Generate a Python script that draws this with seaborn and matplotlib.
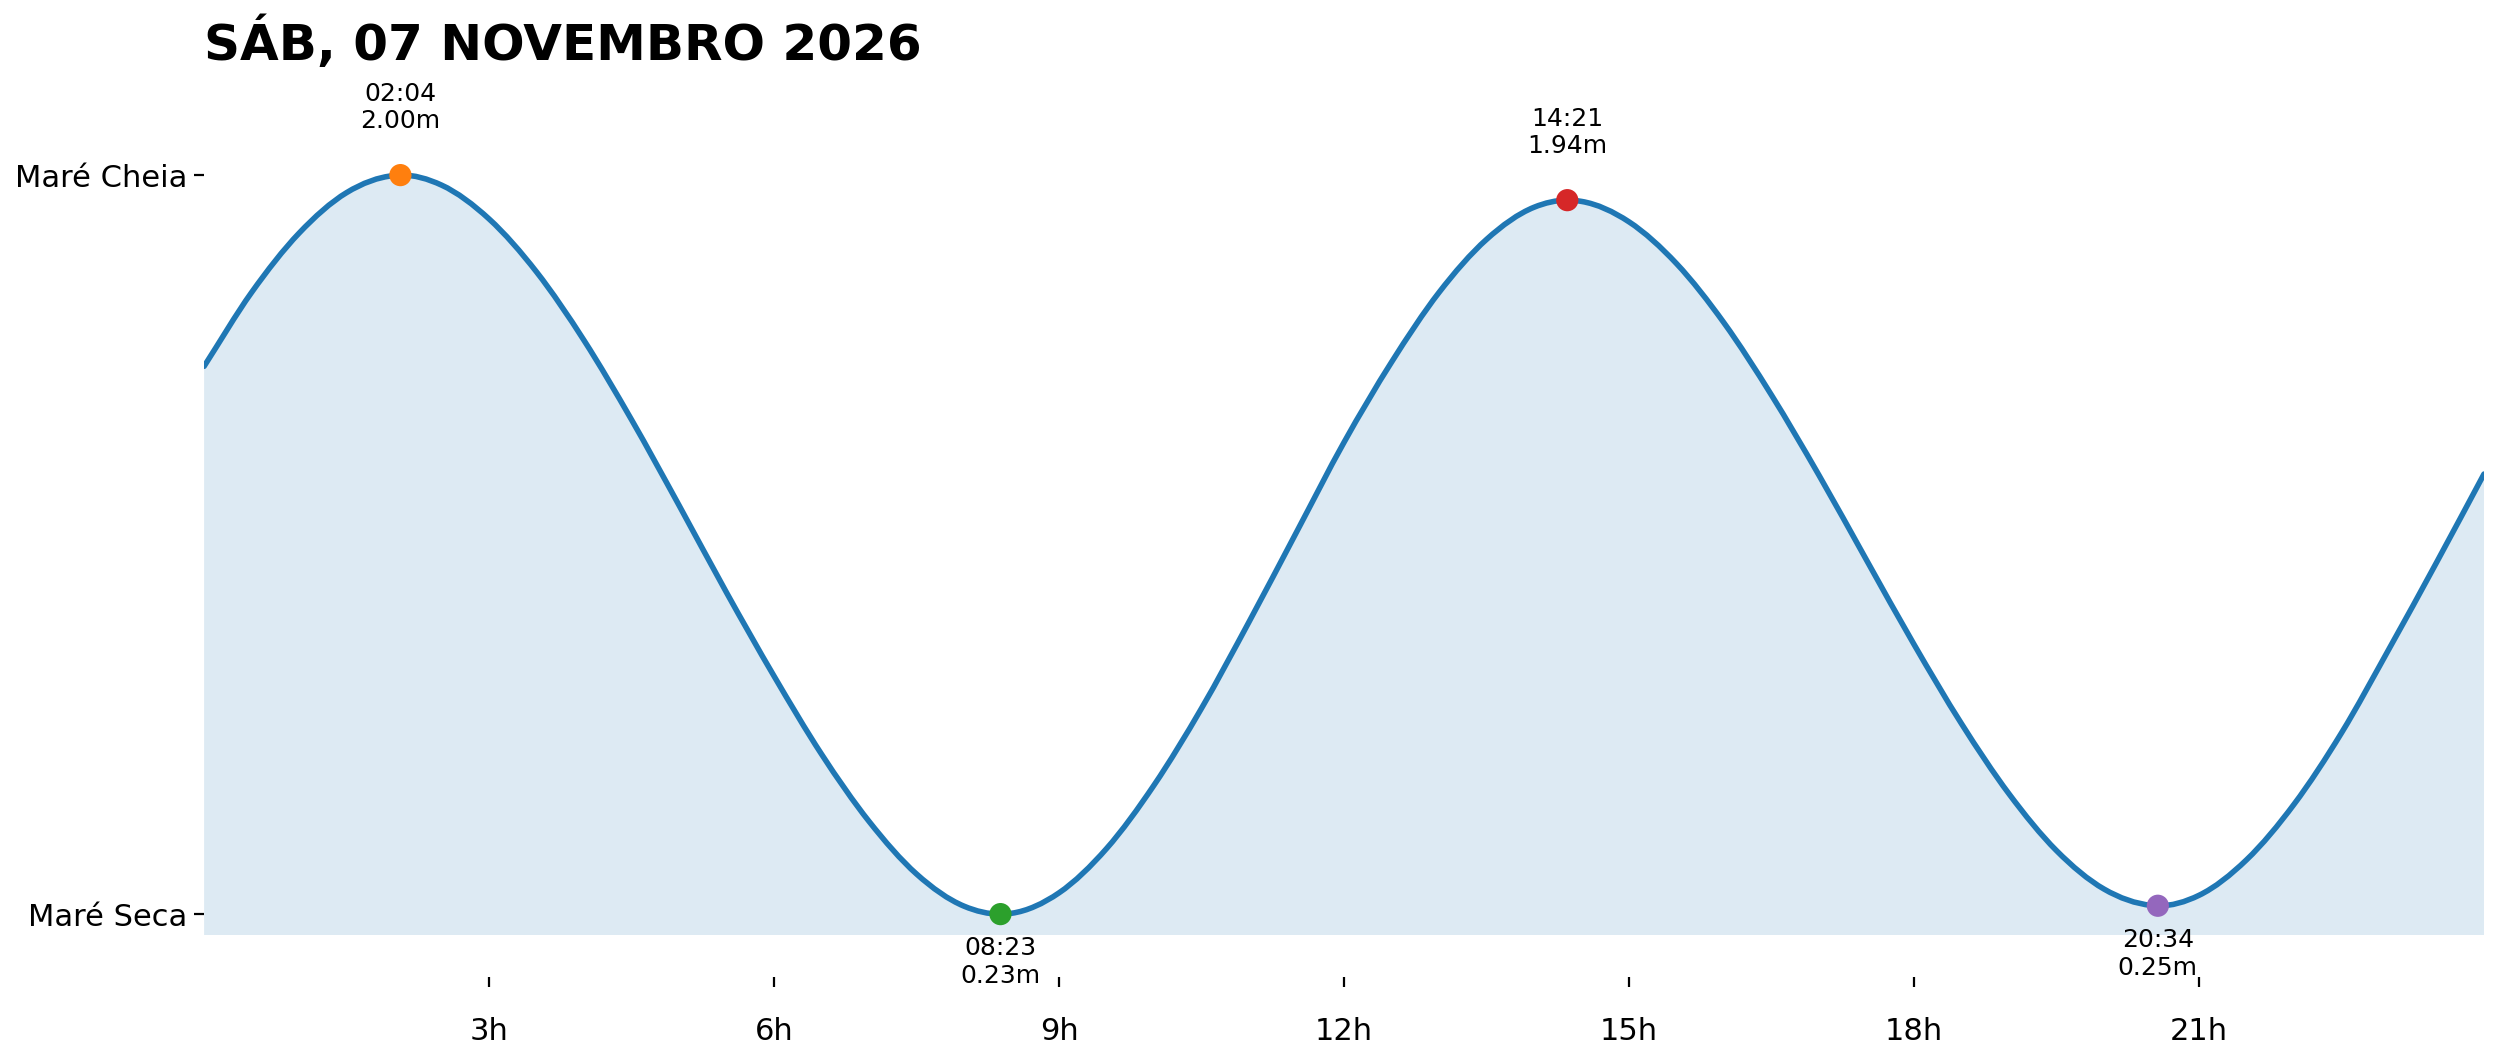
import matplotlib
matplotlib.use('Agg')
import matplotlib.pyplot as plt
import numpy as np
import pandas as pd
import seaborn as sns
from matplotlib.path import Path
from matplotlib.patches import PathPatch

# dados
titulo = 'SÁB, 07 NOVEMBRO 2026'
horarios = ['02:04', '08:23', '14:21', '20:34']
alturas = [2.00, 0.23, 1.94, 0.25]
tipos = ['cheia', 'seca', 'cheia', 'seca']
cores = ['#ff7f0e', '#2ca02c', '#d62728', '#9467bd']

# altura da maré a cada meia hora (0h a 24h)
curva_horas = list(np.arange(0, 24.5, 0.5))
curva_alturas = [1.542, 1.719, 1.861, 1.958, 1.999, 1.976, 1.895, 1.768, 1.604, 1.414,
                 1.209, 1.000, 0.800, 0.613, 0.452, 0.326, 0.249, 0.232, 0.281, 0.387,
                 0.539, 0.723, 0.930, 1.145, 1.360, 1.552, 1.719, 1.846, 1.923, 1.937,
                 1.888, 1.788, 1.646, 1.473, 1.281, 1.078, 0.876, 0.686, 0.518, 0.382,
                 0.290, 0.251, 0.275, 0.360, 0.493, 0.664, 0.865, 1.072, 1.284]

xticks = [3, 6, 9, 12, 15, 18, 21]
xtick_labels = ['3h', '6h', '9h', '12h', '15h', '18h', '21h']
ytick_labels = ['Maré Cheia', 'Maré Seca']

horas_ext = [int(h[:2]) + int(h[3:]) / 60 for h in horarios]

df_ext = pd.DataFrame({'hora': horas_ext, 'altura': alturas, 'horario': horarios, 'tipo': tipos})
df_curva = pd.DataFrame({'hora': curva_horas + horas_ext,
                         'altura': curva_alturas + alturas}).sort_values('hora')


def caminho_suave(x, y):
    # curva de Bézier passando pelos pontos (linha suavizada)
    x = np.asarray(x, float)
    y = np.asarray(y, float)
    m = np.gradient(y, x)
    verts = [(x[0], y[0])]
    codes = [Path.MOVETO]
    for i in range(len(x) - 1):
        h = x[i + 1] - x[i]
        verts += [(x[i] + h / 3, y[i] + m[i] * h / 3),
                  (x[i + 1] - h / 3, y[i + 1] - m[i + 1] * h / 3),
                  (x[i + 1], y[i + 1])]
        codes += [Path.CURVE4] * 3
    return verts, codes


fig = plt.figure(figsize=(2501 / 200, 1062 / 200), dpi=200)
ax = fig.add_axes([0.0816, 0.1196, 0.9116, 0.8079])

verts, codes = caminho_suave(df_curva['hora'], df_curva['altura'])
x0, x1 = df_curva['hora'].min(), df_curva['hora'].max()
fundo = Path(verts + [(x1, 0), (x0, 0), (x0, 0)],
             codes + [Path.LINETO, Path.LINETO, Path.CLOSEPOLY])
ax.add_patch(PathPatch(fundo, facecolor='#1f77b4', alpha=0.15, linewidth=0, zorder=1))
ax.add_patch(PathPatch(Path(verts, codes), facecolor='none', edgecolor='#1f77b4',
                       linewidth=2, capstyle='round', zorder=2))

sns.scatterplot(data=df_ext, x='hora', y='altura', hue='horario', palette=cores,
                s=64, linewidth=0, legend=False, zorder=3, ax=ax)

for _, r in df_ext.iterrows():
    texto = f"{r['horario']}\n{r['altura']:.2f}m"
    if r['tipo'] == 'cheia':
        ax.annotate(texto, (r['hora'], r['altura']), xytext=(0, 15), textcoords='offset points',
                    ha='center', va='bottom', fontsize=9)
    else:
        ax.annotate(texto, (r['hora'], r['altura']), xytext=(0, -8), textcoords='offset points',
                    ha='center', va='top', fontsize=9)

ax.set_xlim(0, 24)
ax.set_ylim(min(alturas) - 0.05, max(alturas) + 0.235)
ax.set_xticks(xticks, xtick_labels)
ax.set_yticks([max(alturas), min(alturas)], ytick_labels)
ax.set_xlabel('')
ax.set_ylabel('')
for lado in ['top', 'right', 'left', 'bottom']:
    ax.spines[lado].set_visible(False)
ax.spines['bottom'].set_position(('outward', 15))
ax.tick_params(axis='x', pad=11, labelsize=11)
ax.tick_params(axis='y', pad=2.5, labelsize=11)

ax.set_title(titulo, loc='left', fontsize=18, fontweight='bold')

fig.savefig('out.png', dpi=200)
